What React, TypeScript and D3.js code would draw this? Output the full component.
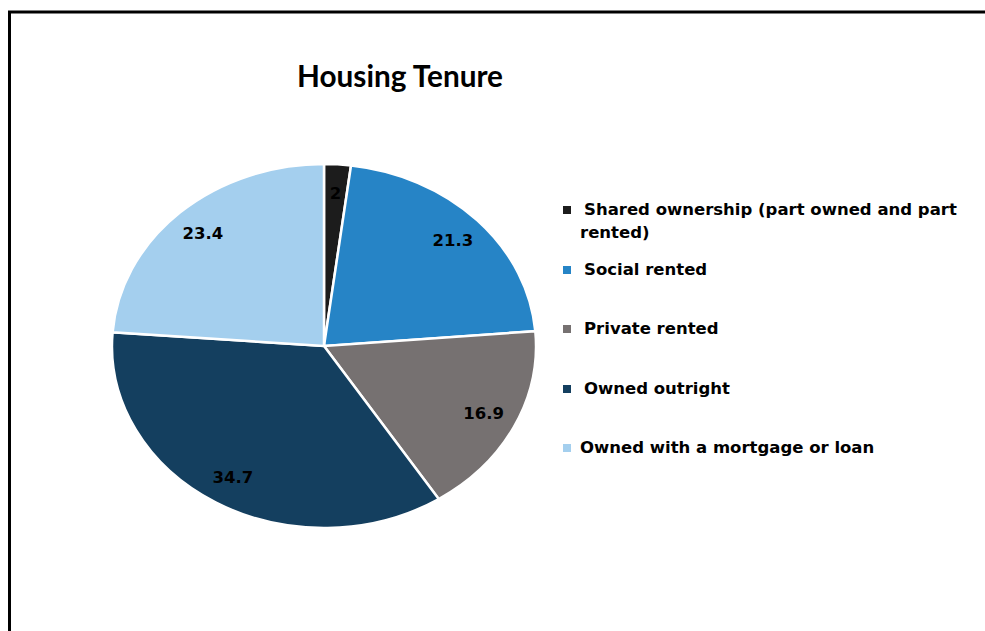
import React from 'react';
import * as d3 from 'd3';

const title = 'Housing Tenure';
const categories = [
  'Shared ownership (part owned and part rented)',
  'Social rented',
  'Private rented',
  'Owned outright',
  'Owned with a mortgage or loan',
];
const values = [2, 21.3, 16.9, 34.7, 23.4];
const colors = ['#1c1c1c', '#2684c6', '#767171', '#143f5f', '#a4cfee'];
const legendLines = [
  ['Shared ownership (part owned and part', 'rented)'],
  ['Social rented'],
  ['Private rented'],
  ['Owned outright'],
  ['Owned with a mortgage or loan'],
];

const W = 985;
const H = 631;
const cx = 324;
const cy = 346;
const R = 212;
const RY = 182;
const ky = RY / R;

const legendRows = [
  { y: 215, x: 584, x2: 580 },
  { y: 275, x: 584 },
  { y: 334, x: 584 },
  { y: 394, x: 584 },
  { y: 453, x: 580 },
];

const font = '"DejaVu Sans", Verdana, sans-serif';

export default function App() {
  const pie = d3.pie<number>().sort(null).value((d) => d);
  const arcs = pie(values);
  const arc = d3.arc<d3.PieArcDatum<number>>().innerRadius(0).outerRadius(R);
  const labelArc = d3
    .arc<d3.PieArcDatum<number>>()
    .innerRadius(R * 0.84)
    .outerRadius(R * 0.84);

  return (
    <svg
      width={W}
      height={H}
      style={{ position: 'fixed', left: 0, top: 0, background: '#fff' }}
    >
      <rect x={0} y={0} width={W} height={H} fill="#fff" />
      <rect x={9.5} y={12} width={1100} height={800} fill="#fff" stroke="#000" strokeWidth={3} />
      <text
        x={400}
        y={87}
        textAnchor="middle"
        fontFamily='Lato, "Open Sans", sans-serif'
        fontWeight="bold"
        fontSize={30}
        textLength={206}
        lengthAdjust="spacingAndGlyphs"
        fill="#000"
      >
        {title}
      </text>
      <g transform={`translate(${cx},${cy}) scale(1,${ky})`}>
        {arcs.map((a, i) => (
          <path
            key={categories[i]}
            d={arc(a) || ''}
            fill={colors[i]}
            stroke="#fff"
            strokeWidth={2.5}
            vectorEffect="non-scaling-stroke"
          />
        ))}
      </g>
      {arcs.map((a, i) => {
        const [x, y] = labelArc.centroid(a);
        return (
          <text
            key={'l' + i}
            x={cx + x}
            y={cy + y * ky}
            textAnchor="middle"
            dominantBaseline="central"
            fontFamily={font}
            fontWeight="bold"
            fontSize={16.5}
            fill="#000"
          >
            {String(values[i])}
          </text>
        );
      })}
      {legendLines.map((lines, i) => {
        const row = legendRows[i];
        return (
          <g key={'lg' + i}>
            <rect x={563} y={row.y - 9} width={8} height={8} fill={colors[i]} />
            {lines.map((t, j) => (
              <text
                key={j}
                x={j === 0 ? row.x : row.x2 ?? row.x}
                y={row.y + j * 23}
                fontFamily={font}
                fontWeight="bold"
                fontSize={16.5}
                fill="#000"
              >
                {t}
              </text>
            ))}
          </g>
        );
      })}
    </svg>
  );
}
